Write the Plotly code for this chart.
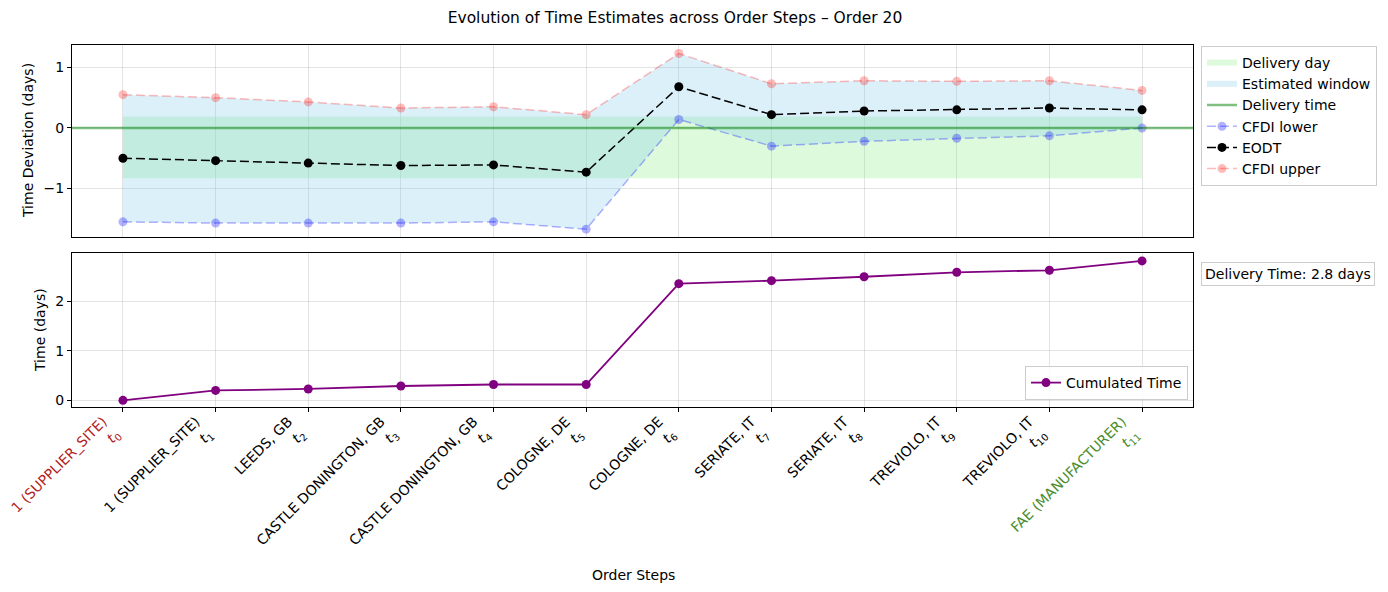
import plotly.graph_objects as go

# order steps
steps = list(range(12))
step_names = [
    "1 (SUPPLIER_SITE)", "1 (SUPPLIER_SITE)", "LEEDS, GB", "CASTLE DONINGTON, GB",
    "CASTLE DONINGTON, GB", "COLOGNE, DE", "COLOGNE, DE", "SERIATE, IT",
    "SERIATE, IT", "TREVIOLO, IT", "TREVIOLO, IT", "FAE (MANUFACTURER)",
]

# deviations (days)
cfdi_upper = [0.55, 0.50, 0.43, 0.33, 0.35, 0.22, 1.23, 0.73, 0.78, 0.77, 0.78, 0.62]
eodt = [-0.50, -0.54, -0.58, -0.62, -0.61, -0.73, 0.68, 0.22, 0.28, 0.30, 0.33, 0.30]
cfdi_lower = [-1.55, -1.57, -1.57, -1.57, -1.55, -1.67, 0.14, -0.30, -0.22, -0.17, -0.13, 0.00]
delivery_dev = 0.0
delivery_day = [-0.83, 0.19]

# cumulated time (days)
cumulated = [0.0, 0.20, 0.23, 0.29, 0.32, 0.32, 2.36, 2.42, 2.50, 2.59, 2.63, 2.82]
delivery_time = 2.8

FONT = "DejaVu Sans"
FS = 14
W, H = 1388, 592
START_COLOR = "#b22222"
END_COLOR = "#4a8c2a"


def tick_label(i, name):
    """Two-line tick label: step name and t_i, coloured for first/last step."""
    color = None
    if i == 0:
        color = START_COLOR
    elif i == len(step_names) - 1:
        color = END_COLOR
    if color is None:
        return f"{name}<br><i>t</i><sub>{i}</sub>"
    return (f'<span style="color:{color}">{name}</span><br>'
            f'<span style="color:{color}"><i>t</i><sub>{i}</sub></span>')


def px_x(p):
    return p / W


def px_y(p):
    return 1 - p / H


fig = go.Figure()

# delivery day band
fig.add_trace(go.Scatter(
    x=[steps[0], steps[-1], steps[-1], steps[0], steps[0]],
    y=[delivery_day[1], delivery_day[1], delivery_day[0], delivery_day[0], delivery_day[1]],
    fill="toself", mode="none", fillcolor="rgba(144,238,144,0.3)",
    name="Delivery day", xaxis="x", yaxis="y", hoverinfo="skip",
))

# estimated window between CFDI bounds
fig.add_trace(go.Scatter(
    x=steps + steps[::-1],
    y=cfdi_upper + cfdi_lower[::-1],
    fill="toself", mode="none", fillcolor="rgba(135,206,235,0.3)",
    name="Estimated window", xaxis="x", yaxis="y", hoverinfo="skip",
))

# legend entry for the delivery time line (line itself drawn as a shape)
fig.add_trace(go.Scatter(
    x=[None], y=[None], mode="lines",
    line=dict(color="rgba(0,128,0,0.5)", width=2.5),
    name="Delivery time", xaxis="x", yaxis="y",
))

fig.add_trace(go.Scatter(
    x=steps, y=cfdi_lower, mode="lines+markers", name="CFDI lower",
    line=dict(color="rgba(0,0,255,0.3)", width=1.5, dash="9px,4px"),
    marker=dict(size=9, color="rgba(0,0,255,0.3)"),
    xaxis="x", yaxis="y",
))
fig.add_trace(go.Scatter(
    x=steps, y=eodt, mode="lines+markers", name="EODT",
    line=dict(color="black", width=1.5, dash="9px,4px"),
    marker=dict(size=9, color="black"),
    xaxis="x", yaxis="y",
))
fig.add_trace(go.Scatter(
    x=steps, y=cfdi_upper, mode="lines+markers", name="CFDI upper",
    line=dict(color="rgba(255,0,0,0.27)", width=1.5, dash="9px,4px"),
    marker=dict(size=9, color="rgba(255,0,0,0.27)"),
    xaxis="x", yaxis="y",
))

fig.add_trace(go.Scatter(
    x=steps, y=cumulated, mode="lines+markers", name="Cumulated Time",
    line=dict(color="purple", width=1.8),
    marker=dict(size=9, color="purple"),
    xaxis="x2", yaxis="y2", legend="legend2",
))

fig.add_shape(
    type="line", xref="x domain", yref="y", x0=0, x1=1,
    y0=delivery_dev, y1=delivery_dev,
    line=dict(color="rgba(0,128,0,0.5)", width=2.5),
)

grid = "rgba(176,176,176,0.35)"
x_range = [-0.55, len(steps) - 0.45]
common_axis = dict(
    showline=True, linecolor="black", linewidth=1, mirror=True,
    showgrid=True, gridcolor=grid, gridwidth=0.8, zeroline=False,
    tickfont=dict(family=FONT, size=FS, color="black"), automargin=False,
)

fig.update_layout(
    width=W, height=H,
    margin=dict(l=0, r=0, t=0, b=0, autoexpand=False),
    paper_bgcolor="white", plot_bgcolor="white",
    font=dict(family=FONT, size=FS, color="black"),
    showlegend=True,
    title=dict(
        text="Evolution of Time Estimates across Order Steps \u2013 Order 20",
        x=px_x(675), xanchor="center", y=px_y(18), yanchor="middle",
        font=dict(family=FONT, size=15.5, color="black"),
    ),
    xaxis=dict(
        common_axis, domain=[px_x(72), px_x(1193)], range=x_range,
        tickvals=steps, showticklabels=False, ticks="", anchor="y",
    ),
    yaxis=dict(
        common_axis, domain=[px_y(237), px_y(45)], range=[-1.80, 1.37],
        tickvals=[-1, 0, 1], ticks="outside", ticklen=4, tickcolor="black",
        anchor="x",
    ),
    xaxis2=dict(
        common_axis, domain=[px_x(72), px_x(1193)], range=x_range,
        tickvals=steps, ticktext=[tick_label(i, n) for i, n in enumerate(step_names)],
        tickangle=-45, ticks="outside", ticklen=4, tickcolor="black", anchor="y2",
        ticklabelshift=-20, ticklabelstandoff=-4,
    ),
    yaxis2=dict(
        common_axis, domain=[px_y(407), px_y(253)], range=[-0.135, 2.98],
        tickvals=[0, 1, 2], ticks="outside", ticklen=4, tickcolor="black",
        anchor="x2",
    ),
    legend=dict(
        x=px_x(1201), y=px_y(46), xanchor="left", yanchor="top",
        bgcolor="rgba(255,255,255,0.8)", bordercolor="#cccccc", borderwidth=1,
        font=dict(family=FONT, size=FS), traceorder="normal",
    ),
    legend2=dict(
        x=px_x(1188), y=px_y(400), xanchor="right", yanchor="bottom",
        bgcolor="rgba(255,255,255,0.8)", bordercolor="#cccccc", borderwidth=1,
        font=dict(family=FONT, size=FS),
    ),
)

# axis titles and info box
fig.add_annotation(
    text="Time Deviation (days)", xref="paper", yref="paper",
    x=px_x(28), y=px_y(141), xanchor="center", yanchor="middle",
    textangle=-90, showarrow=False, font=dict(family=FONT, size=FS),
)
fig.add_annotation(
    text="Time (days)", xref="paper", yref="paper",
    x=px_x(40), y=px_y(330), xanchor="center", yanchor="middle",
    textangle=-90, showarrow=False, font=dict(family=FONT, size=FS),
)
fig.add_annotation(
    text="Order Steps", xref="paper", yref="paper",
    x=px_x(633), y=px_y(575), xanchor="center", yanchor="middle",
    showarrow=False, font=dict(family=FONT, size=FS),
)
fig.add_annotation(
    text=f"Delivery Time: {delivery_time} days", xref="paper", yref="paper",
    x=px_x(1201), y=px_y(262), xanchor="left", yanchor="top", showarrow=False,
    bordercolor="#cccccc", borderwidth=1, borderpad=3, bgcolor="white",
    font=dict(family=FONT, size=FS),
)

# drop the default page margin so the figure sits at the window origin
fig.write_html(
    "out.html",
    config={"displayModeBar": False},
    post_script="document.body.style.margin='0';",
)
